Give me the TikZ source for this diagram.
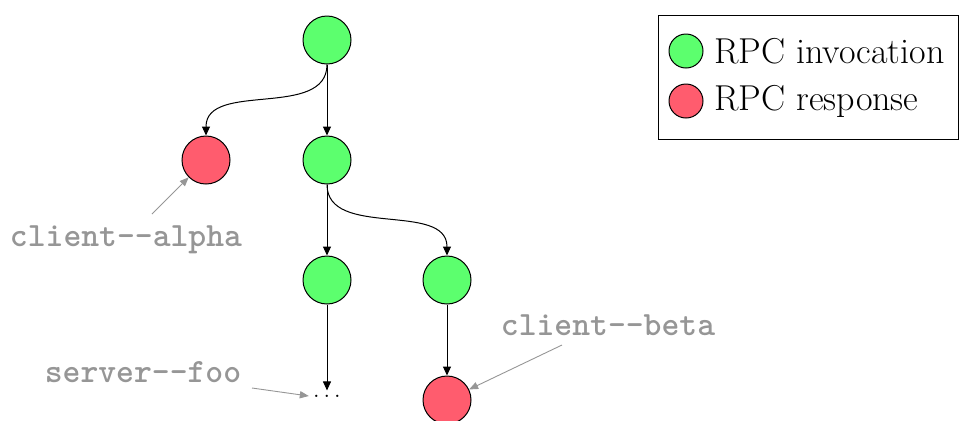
\documentclass[tikz,border=0pt]{standalone}
\usetikzlibrary{arrows.meta}
\definecolor{callgreen}{RGB}{92,255,110}
\definecolor{replyred}{RGB}{255,92,110}
\definecolor{notegray}{RGB}{150,150,150}
\tikzset{
  ev/.style={circle, draw=black, line width=0.5pt, minimum size=24pt, inner sep=0pt},
  call/.style={ev, fill=callgreen},
  reply/.style={ev, fill=replyred},
  flow/.style={-{Triangle[length=4.5pt,width=4pt]}, line width=0.5pt},
  note/.style={text=notegray, font=\fontsize{17}{20}\selectfont\ttfamily\bfseries},
  pointer/.style={-{Triangle[length=4.5pt,width=3.6pt]}, draw=notegray, line width=0.45pt},
  legcirc/.style={circle, draw=black, line width=0.5pt, minimum size=17pt, inner sep=0pt},
}
\begin{document}
\begin{tikzpicture}[x=0.5pt, y=-0.5pt, font=\fontsize{18}{21}\selectfont]
\useasboundingbox (0,0) rectangle (959,420);

% call tree
\node[call]  (root) at (327,40) {};
\node[reply] (ra)   at (206,160) {};
\node[call]  (b)    at (327,160) {};
\node[call]  (c)    at (327,280) {};
\node[call]  (d)    at (447,280) {};
\node[inner sep=2pt, font=\fontsize{12}{14}\selectfont] (e) at (327,396) {$\ldots$};
\node[reply] (rb)   at (447,400) {};

\draw[flow] (root.south) to[out=-90, in=90] (ra.north);
\draw[flow] (root) -- (b);
\draw[flow] (b) -- (c);
\draw[flow] (b.south) to[out=-90, in=90] (d.north);
\draw[flow] (c) -- (e);
\draw[flow] (d) -- (rb);

% annotations
\node[note] (na) at (126,240) {client-{}-alpha};
\node[note] (nf) at (143,372) {server-{}-foo};
\node[note] (nb) at (608,325) {client-{}-beta};
\coordinate (pa) at (152,214);
\coordinate (pf) at (252,388);
\coordinate (pb) at (562,345);
\draw[pointer] (pa) -- (ra);
\draw[pointer] (pf) -- (e.west);
\draw[pointer] (pb) -- (rb);

% legend
\node[draw=black, line width=0.5pt, minimum width=150pt, minimum height=62pt, inner sep=0pt] (leg) at (808,77) {};
\node[legcirc, fill=callgreen] (lg) at (686,51) {};
\node[legcirc, fill=replyred]  (lr) at (686,101) {};
\node[anchor=west, inner sep=0pt] (tg) at (714,51) {RPC invocation};
\node[anchor=west, inner sep=0pt] (tr) at (714,101) {RPC response};
\end{tikzpicture}
\end{document}
